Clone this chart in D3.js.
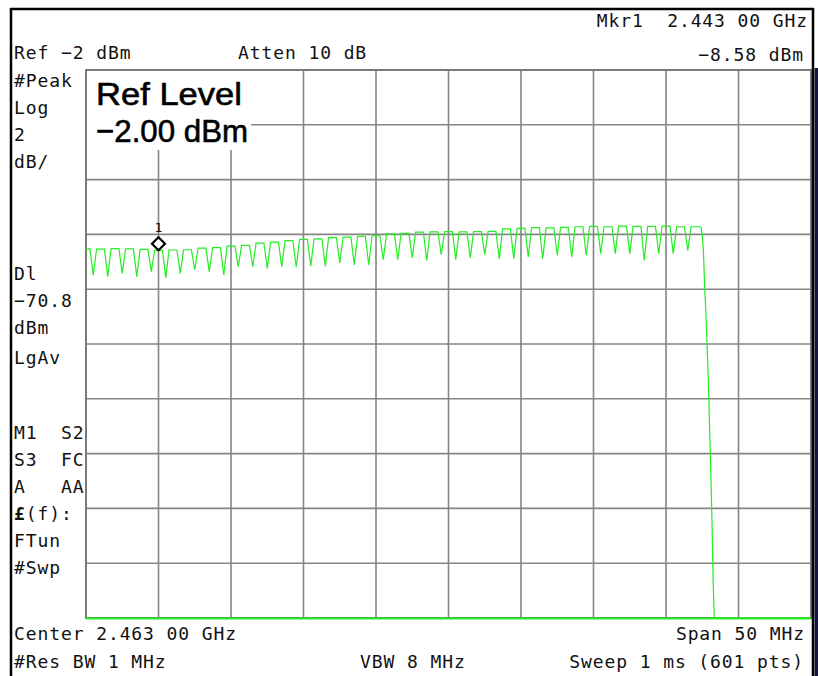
<!DOCTYPE html>
<html><head><meta charset="utf-8">
<script src="https://cdn.jsdelivr.net/npm/d3@7"></script>
<style>
html,body{margin:0;padding:0;background:#fff;}
svg{display:block;}
</style></head>
<body>
<script>
// ---------------- data ----------------
const startMHz = 2438;          // Center 2.463 00 GHz, Span 50 MHz
const stopMHz = 2488;
const refLevelDbm = -2;         // top of screen
const bottomDbm = -22;          // 2 dB/div x 10 divisions
const channelMHz = [2438,2439,2440,2441,2442,2443,2444,2445,2446,2447,2448,2449,2450,2451,2452,
  2453,2454,2455,2456,2457,2458,2459,2460,2461,2462,2463,2464,2465,2466,2467,2468,2469,2470,
  2471,2472,2473,2474,2475,2476,2477,2478,2479,2480];
const peakDbm = [-8.53,-8.54,-8.52,-8.53,-8.55,-8.58,-8.57,-8.56,-8.50,-8.48,-8.43,-8.40,-8.32,
  -8.28,-8.23,-8.18,-8.16,-8.12,-8.10,-8.07,-8.05,-7.98,-7.96,-7.92,-7.91,-7.90,-7.91,-7.90,
  -7.89,-7.80,-7.78,-7.75,-7.76,-7.74,-7.72,-7.71,-7.72,-7.70,-7.71,-7.71,-7.70,-7.72,-7.72];
const dipMHz = [2438.5,2439.5,2440.5,2441.5,2442.5,2443.5,2444.5,2445.5,2446.5,2447.5,2448.5,
  2449.5,2450.5,2451.5,2452.5,2453.5,2454.5,2455.5,2456.5,2457.5,2458.5,2459.5,2460.5,2461.5,
  2462.5,2463.5,2464.5,2465.5,2466.5,2467.5,2468.5,2469.5,2470.5,2471.5,2472.5,2473.5,2474.5,
  2475.5,2476.5,2477.5,2478.5,2479.5];
const dipDbm = [-9.48,-9.54,-9.42,-9.54,-9.36,-9.58,-9.42,-9.30,-9.36,-9.48,-9.18,-9.18,-9.24,
  -9.18,-9.20,-9.16,-9.16,-9.04,-9.11,-9.11,-8.92,-8.92,-8.86,-8.96,-8.74,-8.92,-8.86,-8.74,
  -8.89,-8.89,-8.82,-8.89,-8.76,-8.82,-8.76,-8.70,-8.70,-8.70,-8.95,-8.70,-8.70,-8.58];
const rolloffMHz = [2480.42,2480.50,2480.58,2480.67,2480.75,2480.83,2480.92,2481.00,2481.08,
  2481.17,2481.25,2481.33,2488.00];
const rolloffDbm = [-7.75,-8.00,-8.60,-9.96,-10.83,-11.96,-13.31,-14.90,-16.49,-18.42,-20.61,
  -22.60,-22.60];
const markerMHz = 2443.00;
const markerDbm = -8.58;

const topLeftText = ["Ref -2 dBm", "Atten 10 dB"];
const topRightText = ["Mkr1  2.443 00 GHz", "-8.58 dBm"];
const sideTextTop = ["#Peak", "Log", "2", "dB/"];
const sideTextMid = ["Dl", "-70.8", "dBm", "LgAv"];
const sideTextLow = ["M1  S2", "S3  FC", "A   AA", "(f):", "FTun", "#Swp"];
const bottomLeftText = ["Center 2.463 00 GHz", "#Res BW 1 MHz"];
const bottomMidText = "VBW 8 MHz";
const bottomRightText = ["Span 50 MHz", "Sweep 1 ms (601 pts)"];
const activeText = ["Ref Level", "-2.00 dBm"];

// ---------------- layout ----------------
const W = 818, H = 676;
const plot = {left: 86, right: 811, top: 70, bottom: 618};
const nDiv = 10;
const mono = "'DejaVu Sans Mono', 'Liberation Mono', monospace";
const green = "#22ee22";

const svg = d3.select("body").append("svg").attr("width", W).attr("height", H);
svg.append("rect").attr("width", W).attr("height", H).attr("fill", "#fff");

const x = d3.scaleLinear().domain([startMHz, stopMHz]).range([plot.left, plot.right]);
const y = d3.scaleLinear().domain([bottomDbm, refLevelDbm]).range([plot.bottom, plot.top]).clamp(true);

// graticule
const g = svg.append("g");
const xDivs = d3.range(1, nDiv).map(i => startMHz + i * (stopMHz - startMHz) / nDiv);
const yDivs = d3.range(1, nDiv).map(i => bottomDbm + i * (refLevelDbm - bottomDbm) / nDiv);
g.selectAll("line.vx").data(xDivs).join("line")
  .attr("x1", d => x(d)).attr("x2", d => x(d))
  .attr("y1", plot.top).attr("y2", plot.bottom)
  .attr("stroke", "#858585").attr("stroke-width", 1.6);
g.selectAll("line.hy").data(yDivs).join("line")
  .attr("x1", plot.left).attr("x2", plot.right)
  .attr("y1", d => y(d)).attr("y2", d => y(d))
  .attr("stroke", "#858585").attr("stroke-width", 1.6);
g.append("rect").attr("x", plot.left).attr("y", plot.top)
  .attr("width", plot.right - plot.left).attr("height", plot.bottom - plot.top)
  .attr("fill", "none").attr("stroke", "#7a7a7a").attr("stroke-width", 2);

// active function box
svg.append("rect").attr("x", plot.left + 1).attr("y", plot.top + 1)
  .attr("width", 164).attr("height", 79).attr("fill", "#fff");
const bigFont = "'Liberation Sans', Arial, sans-serif";
svg.append("text").attr("x", 96).attr("y", 105)
  .attr("font-family", bigFont).attr("font-size", 32)
  .attr("stroke", "#000").attr("stroke-width", 0.6)
  .attr("textLength", 146).attr("lengthAdjust", "spacingAndGlyphs")
  .text(activeText[0]);
svg.append("text").attr("x", 96).attr("y", 142)
  .attr("font-family", bigFont).attr("font-size", 32)
  .attr("stroke", "#000").attr("stroke-width", 0.6)
  .attr("textLength", 152).attr("lengthAdjust", "spacingAndGlyphs")
  .text(activeText[1].replace("-", "\u2212"));

// trace
const pts = [];
channelMHz.forEach((c, k) => {
  pts.push([k === 0 ? c : c - 0.27, peakDbm[k]]);
  pts.push([c + 0.27, peakDbm[k]]);
  if (k < dipMHz.length) pts.push([dipMHz[k], dipDbm[k]]);
});
rolloffMHz.forEach((f, i) => pts.push([f, rolloffDbm[i]]));

svg.append("clipPath").attr("id", "clip").append("rect")
  .attr("x", plot.left).attr("y", plot.top - 1)
  .attr("width", plot.right - plot.left).attr("height", plot.bottom - plot.top + 3);
svg.append("path").datum(pts)
  .attr("clip-path", "url(#clip)")
  .attr("d", d3.line().x(d => x(d[0])).y(d => y(d[1])))
  .attr("fill", "none").attr("stroke", green).attr("stroke-width", 1.2);
// bottom screen edge in trace colour
svg.append("line").attr("x1", plot.left).attr("x2", plot.right)
  .attr("y1", plot.bottom + 0.5).attr("y2", plot.bottom + 0.5)
  .attr("stroke", green).attr("stroke-width", 2);

// marker
const mx = x(markerMHz), my = y(markerDbm);
svg.append("path")
  .attr("d", `M${mx},${my - 13}L${mx + 6.5},${my - 6.5}L${mx},${my}L${mx - 6.5},${my - 6.5}Z`)
  .attr("fill", "#fff").attr("stroke", "#000").attr("stroke-width", 2.2);
svg.append("text").attr("x", mx).attr("y", my - 18).attr("text-anchor", "middle")
  .attr("font-family", mono).attr("font-size", 13).text("1");

// frame
svg.append("line").attr("x1", 10).attr("x2", 814).attr("y1", 9).attr("y2", 9)
  .attr("stroke", "#000").attr("stroke-width", 2.5);
svg.append("line").attr("x1", 11).attr("x2", 11).attr("y1", 8).attr("y2", H)
  .attr("stroke", "#000").attr("stroke-width", 2.5);
svg.append("line").attr("x1", 813).attr("x2", 813).attr("y1", 8).attr("y2", H)
  .attr("stroke", "#000").attr("stroke-width", 2.5);
svg.append("rect").attr("x", 814.5).attr("y", 68).attr("width", 4).attr("height", H - 68)
  .attr("fill", "#14143c");

// annotations
function label(txt, xx, yy, anchor) {
  return svg.append("text").attr("x", xx).attr("y", yy)
    .attr("text-anchor", anchor || "start")
    .attr("font-family", mono).attr("font-size", 18).attr("letter-spacing", 0.9)
    .attr("fill", "#111").attr("xml:space", "preserve").style("white-space", "pre")
    .text(txt.replace(/-/g, "\u2212"));
}
label(topLeftText[0], 14, 59);
label(topLeftText[1], 238, 59);
label(topRightText[0], 808, 27, "end");
label(topRightText[1], 804, 61, "end");
sideTextTop.forEach((t, i) => label(t, 14, 87 + i * 27));
sideTextMid.forEach((t, i) => label(t, 14, 280 + i * 27 + (i === 3 ? 3 : 0)));
sideTextLow.forEach((t, i) => {
  const el = label(i === 3 ? "" : t, 14, 439 + i * 27);
  if (i === 3) {
    el.append("tspan").attr("font-weight", "bold").text("\u00a3");
    el.append("tspan").text(t);
  }
});
label(bottomLeftText[0], 14, 640);
label(bottomLeftText[1], 14, 668);
label(bottomMidText, 360, 668);
label(bottomRightText[0], 805, 640, "end");
label(bottomRightText[1], 804, 668, "end");
</script>
</body></html>
